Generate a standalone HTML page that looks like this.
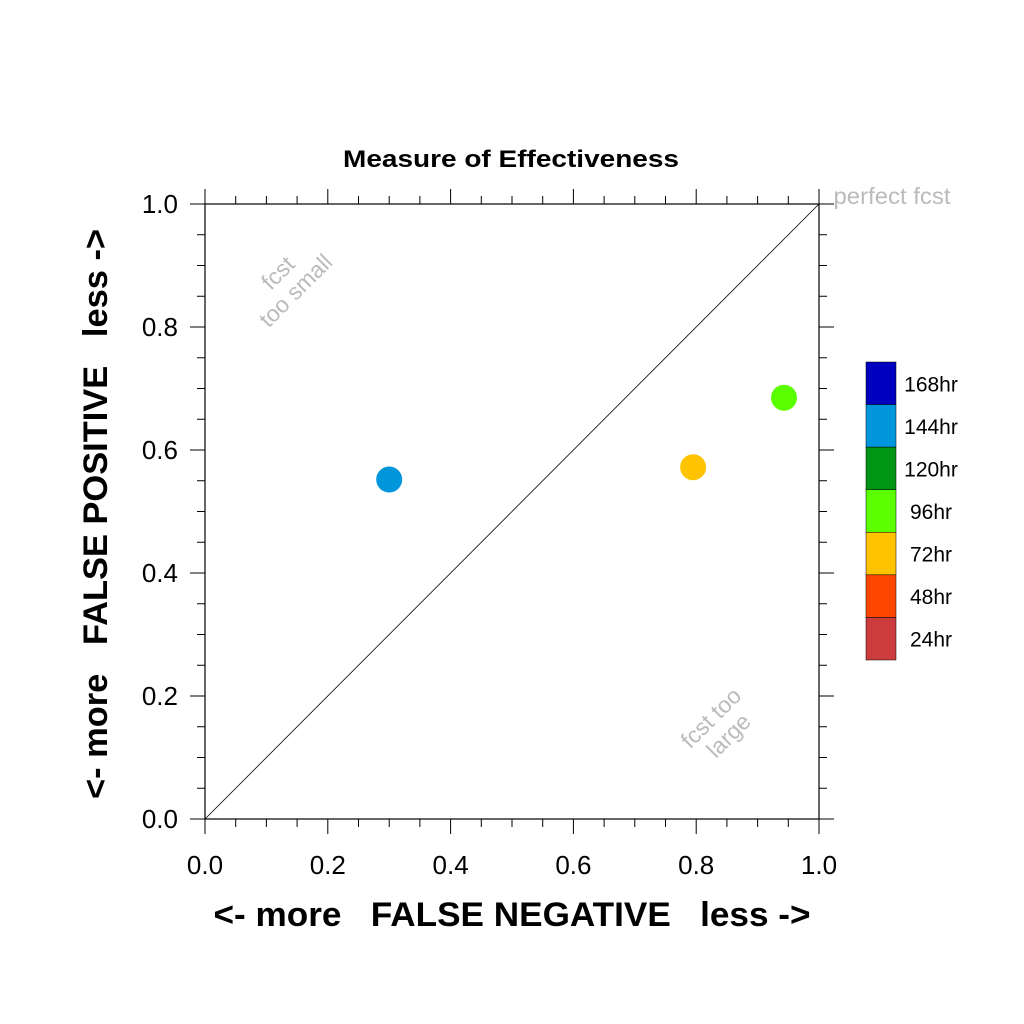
<!DOCTYPE html>
<html><head><meta charset="utf-8"><style>body{margin:0;background:#fff}svg{display:block}text{font-family:"Liberation Sans",sans-serif}</style></head>
<body>
<svg id="c" width="1024" height="1024">
<text x="511" y="167" text-anchor="middle" font-size="24" font-weight="bold" textLength="336" lengthAdjust="spacingAndGlyphs">Measure of Effectiveness</text>
<g id="axes"></g>
<line x1="205" y1="819" x2="819" y2="204" stroke="#000" stroke-width="0.8"/>
<text x="892" y="204" text-anchor="middle" font-size="23" fill="#bbb" textLength="117" lengthAdjust="spacingAndGlyphs">perfect fcst</text>
<g transform="translate(287,282) rotate(-45)" fill="#bbb" font-size="23" text-anchor="middle"><text y="-5">fcst</text><text y="20">too small</text></g>
<g transform="translate(720,727) rotate(-45)" fill="#bbb" font-size="23" text-anchor="middle"><text y="-5">fcst too</text><text y="20">large</text></g>
<text x="512" y="926" text-anchor="middle" font-size="34" font-weight="bold" textLength="597" lengthAdjust="spacingAndGlyphs" xml:space="preserve">&lt;- more   FALSE NEGATIVE   less -&gt;</text>
<text transform="translate(107,514) rotate(-90)" text-anchor="middle" font-size="34" font-weight="bold" textLength="570" lengthAdjust="spacingAndGlyphs" xml:space="preserve">&lt;- more   FALSE POSITIVE   less -&gt;</text>
<g id="pts"></g><g id="legend"></g>
</svg>
<script>
const xVals=[0.30,0.795,0.943];
const yVals=[0.552,0.572,0.685];
const ptColors=["#0096dc","#ffc300","#5aff00"];
const ticks=["0.0","0.2","0.4","0.6","0.8","1.0"];
const legendLabels=["168hr","144hr","120hr","96hr","72hr","48hr","24hr"];
const legendColors=["#0000c0","#0096dc","#009614","#5aff00","#ffc300","#ff4600","#cd3c3c"];
const NS="http://www.w3.org/2000/svg";
const X0=205,X1=819,Y0=819,Y1=204;
const sx=v=>X0+(X1-X0)*v, sy=v=>Y0-(Y0-Y1)*v;
function mk(t,a,p){const e=document.createElementNS(NS,t);for(const k in a)e.setAttribute(k,a[k]);p.appendChild(e);return e;}
const ax=document.getElementById('axes');
const fr=mk('rect',{x:X0,y:Y1,width:X1-X0,height:Y0-Y1,fill:'none',stroke:'#000','stroke-width':1.2},ax);


for(let i=0;i<=20;i++){const v=i/20,maj=i%4==0,L=maj?15:8;
 mk('line',{x1:sx(v),x2:sx(v),y1:Y0,y2:Y0+L,stroke:'#000'},ax);
 mk('line',{x1:sx(v),x2:sx(v),y1:Y1,y2:Y1-L,stroke:'#000'},ax);
 mk('line',{x1:X0,x2:X0-L,y1:sy(v),y2:sy(v),stroke:'#000'},ax);
 mk('line',{x1:X1,x2:X1+L,y1:sy(v),y2:sy(v),stroke:'#000'},ax);}
ticks.forEach((t,i)=>{const v=i/5;
 const a=mk('text',{x:sx(v),y:874,'text-anchor':'middle','font-size':26},ax);a.textContent=t;
 
 
 const b=mk('text',{x:178,y:sy(v)+9,'text-anchor':'end','font-size':26},ax);b.textContent=t;
 
 });
const pg=document.getElementById('pts');
xVals.forEach((x,i)=>{const c=mk('circle',{cx:sx(x),cy:sy(yVals[i]),r:13,fill:ptColors[i]},pg);
 
 });
const lg=document.getElementById('legend');const h=298/legendLabels.length;
legendLabels.forEach((l,i)=>{const r=mk('rect',{x:866,y:362+i*h,width:30,height:h,fill:legendColors[i],stroke:'#000','stroke-width':0.5},lg);
 
 
 const t=mk('text',{x:931,y:362+i*h+h/2+8,'text-anchor':'middle','font-size':21},lg);t.textContent=l;
 
 });
</script>
</body></html>
